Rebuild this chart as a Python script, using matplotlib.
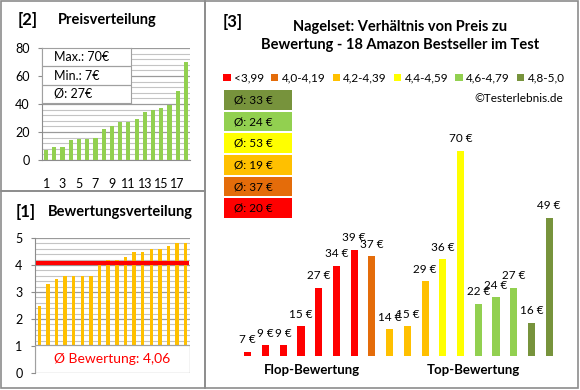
import matplotlib
matplotlib.use("Agg")
import matplotlib.pyplot as plt
from matplotlib.patches import Rectangle, Patch
from matplotlib.ticker import MultipleLocator

plt.rcParams['font.family'] = ['Lato', 'DejaVu Sans']

# ---- data ----
prices_sorted = [7, 9, 9, 14, 15, 15, 16, 22, 24, 27, 27, 29, 34, 36, 37, 39, 49, 70]
ratings_sorted = [2.5, 3.3, 3.5, 3.6, 3.6, 3.6, 3.6, 4.0, 4.2, 4.2, 4.3, 4.5, 4.5,
                  4.6, 4.6, 4.7, 4.8, 4.8]
rating_avg = 4.06

# prices in order of rating group (panel 3)
prices_by_rating = [7, 9, 9, 15, 27, 34, 39, 37, 14, 15, 29, 36, 70, 22, 24, 27, 16, 49]
group_of_bar = [0, 0, 0, 0, 0, 0, 0, 1, 2, 2, 2, 3, 3, 4, 4, 4, 5, 5]
group_labels = ['<3,99', '4,0-4,19', '4,2-4,39', '4,4-4,59', '4,6-4,79', '4,8-5,0']
group_avgs = [20, 37, 19, 53, 24, 33]
group_colors = ['#FF0000', '#E46C0A', '#FFC000', '#FFFF00', '#92D050', '#77933C']

W, H = 580, 390


def px(x0, y0, x1, y1):
    # pixel box (top-left origin) -> figure rect
    return [x0 / W, 1 - y1 / H, (x1 - x0) / W, (y1 - y0) / H]


fig = plt.figure(figsize=(W / 100, H / 100), dpi=100)
fig.patch.set_facecolor('white')

# panel borders
for (x0, y0, x1, y1) in [(1, 1, 205, 191), (1, 191, 205, 388), (205, 1, 578, 388)]:
    fig.patches.append(Rectangle((x0 / W, 1 - y1 / H), (x1 - x0) / W, (y1 - y0) / H,
                                 transform=fig.transFigure, fill=False,
                                 edgecolor='#8C8C8C', lw=1.2))

grid_major = '#9A9A9A'
grid_minor = '#C4C4C4'

# ================= [2] Preisverteilung =================
ax1 = fig.add_axes(px(42, 48, 190, 160))
idx = list(range(1, len(prices_sorted) + 1))
ax1.bar(idx, prices_sorted, width=0.5, color='#92D050', zorder=3)
ax1.set_xlim(0.5, 18.5)
ax1.set_ylim(0, 80)
ax1.yaxis.set_major_locator(MultipleLocator(20))
ax1.yaxis.set_minor_locator(MultipleLocator(4))
ax1.grid(axis='y', which='major', color=grid_major, lw=0.9, zorder=0)
ax1.grid(axis='y', which='minor', color=grid_minor, lw=0.8, zorder=0)
ax1.set_xticks(idx[::2])
ax1.set_xticklabels([str(i) for i in idx[::2]])
ax1.tick_params(axis='x', length=0, pad=13, labelsize=9)
ax1.tick_params(axis='y', which='major', length=3, color='#8C8C8C', pad=6, labelsize=9)
ax1.tick_params(axis='y', which='minor', length=0)
for s in ['top', 'right']:
    ax1.spines[s].set_visible(False)
for s in ['left', 'bottom']:
    ax1.spines[s].set_color('#8C8C8C')

fig.text(18 / W, 1 - 20 / H, '[2]', fontsize=12, fontweight='bold', va='center')
fig.text(58 / W, 1 - 20 / H, 'Preisverteilung', fontsize=10.5, fontweight='bold',
         va='center')

# stats box
axs = fig.add_axes(px(42, 48, 131, 103))
axs.set_xlim(0, 1)
axs.set_ylim(0, 3)
axs.set_xticks([])
axs.set_yticks([])
axs.set_facecolor('white')
for s in axs.spines.values():
    s.set_color('#A0A0A0')
axs.axhline(1, color='#A0A0A0', lw=0.9)
axs.axhline(2, color='#A0A0A0', lw=0.9)
stats = ['Max.: %d€' % max(prices_sorted), 'Min.: %d€' % min(prices_sorted),
         'Ø: %d€' % round(sum(prices_sorted) / len(prices_sorted))]
for i, t in enumerate(stats):
    axs.text(0.13, 2.5 - i, t, fontsize=9, va='center', ha='left')

# ================= [1] Bewertungsverteilung =================
ax2 = fig.add_axes(px(35, 238, 190, 373))
idx2 = list(range(1, len(ratings_sorted) + 1))
ax2.bar(idx2, ratings_sorted, width=0.4, color='#FFC000', zorder=3)
ax2.set_xlim(0.5, 18.5)
ax2.set_ylim(0, 5)
ax2.yaxis.set_major_locator(MultipleLocator(1))
ax2.yaxis.set_minor_locator(MultipleLocator(0.2))
ax2.grid(axis='y', which='major', color=grid_major, lw=0.9, zorder=0)
ax2.grid(axis='y', which='minor', color=grid_minor, lw=0.8, zorder=0)
ax2.set_xticks([])
ax2.tick_params(axis='y', which='major', length=3, color='#8C8C8C', pad=6, labelsize=9)
ax2.tick_params(axis='y', which='minor', length=0)
for s in ['top', 'right', 'bottom']:
    ax2.spines[s].set_visible(False)
ax2.spines['left'].set_color('#8C8C8C')
ax2.plot([0.6, 18.4], [rating_avg, rating_avg], color='#FF0000', lw=3, zorder=4,
         solid_capstyle='butt')
ax2.add_patch(Rectangle((0.5, 0), 18, 1.03, facecolor='white', edgecolor='#A0A0A0',
                        lw=0.9, zorder=5))
ax2.text(9.5, 0.52, 'Ø Bewertung: ' + ('%.2f' % rating_avg).replace('.', ','),
         color='#FF0000', fontsize=10, ha='center', va='center', zorder=6)

fig.text(16 / W, 1 - 212 / H, '[1]', fontsize=12, fontweight='bold', va='center')
fig.text(48 / W, 1 - 212 / H, 'Bewertungsverteilung', fontsize=10.5,
         fontweight='bold', va='center')

# ================= [3] Preis vs Bewertung =================
ax3 = fig.add_axes(px(239, 119, 558, 356))
idx3 = list(range(1, len(prices_by_rating) + 1))
bar_colors = [group_colors[g] for g in group_of_bar]
ax3.bar(idx3, [p - 5.6 for p in prices_by_rating], bottom=5.6, width=0.4,
        color=bar_colors, zorder=3)
ax3.set_xlim(0.5, 18.5)
ax3.set_ylim(5.6, 80)
ax3.axis('off')
for i, p in zip(idx3, prices_by_rating):
    ax3.text(i, p + 2.0, '%d €' % p, ha='center', va='bottom', fontsize=8.5)

fig.text(233 / W, 1 - 22 / H, '[3]', fontsize=12, fontweight='bold', va='center',
         ha='center')
fig.text(400 / W, 1 - 36 / H,
         'Nagelset: Verhältnis von Preis zu\nBewertung - 18 Amazon Bestseller im Test',
         fontsize=10.5, fontweight='bold', ha='center', va='center', linespacing=1.4)

handles = [Patch(facecolor=c, edgecolor='none') for c in group_colors]
fig.legend(handles, group_labels, ncol=6, loc='center',
           bbox_to_anchor=(394 / W, 1 - 78 / H), frameon=False, fontsize=8.5,
           handlelength=0.6, handleheight=0.6, handletextpad=0.3, columnspacing=0.6)
fig.text(563 / W, 1 - 98 / H, '©Testerlebnis.de', fontsize=8.5, ha='right', va='center')

# group average boxes
axb = fig.add_axes(px(224, 89, 292, 219))
axb.barh(range(len(group_avgs)), [1] * len(group_avgs), height=0.9, color=group_colors)
axb.set_xlim(0, 1)
axb.set_ylim(-0.5, len(group_avgs) - 0.5)
axb.axis('off')
for i, a in enumerate(group_avgs):
    axb.text(0.15, i, 'Ø: %d €' % a, fontsize=8.5, va='center', ha='left')

fig.text(312 / W, 1 - 370 / H, 'Flop-Bewertung', fontsize=9.5, fontweight='bold',
         ha='center', va='center')
fig.text(473 / W, 1 - 370 / H, 'Top-Bewertung', fontsize=9.5, fontweight='bold',
         ha='center', va='center')

fig.savefig('out.png', dpi=100)
